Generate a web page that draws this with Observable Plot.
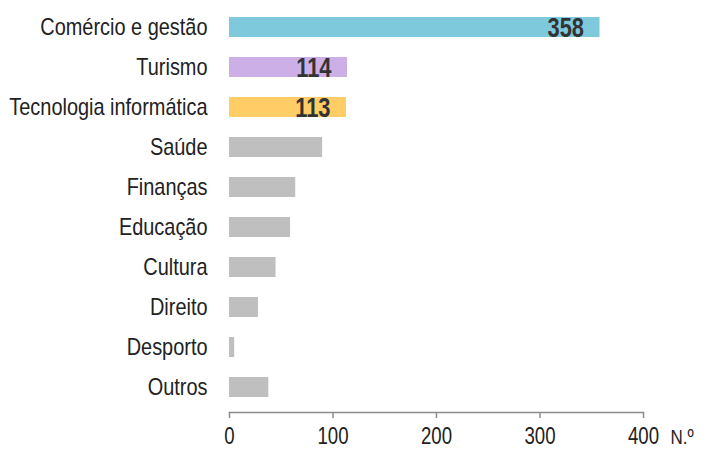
<!DOCTYPE html>
<html>
<head>
<meta charset="utf-8">
<script src="https://cdn.jsdelivr.net/npm/d3@7"></script>
<script src="https://cdn.jsdelivr.net/npm/@observablehq/plot@0.6"></script>
<style>
  html, body { margin: 0; padding: 0; background: #fff; }
  #chart svg { display: block; }
</style>
</head>
<body>
<div id="chart"></div>
<script>
const categories = ["Comércio e gestão", "Turismo", "Tecnologia informática", "Saúde", "Finanças", "Educação", "Cultura", "Direito", "Desporto", "Outros"];
const values = [358, 114, 113, 90, 64, 59, 45, 28, 5, 38];
const barColors = ["#7ECADC", "#CBAFE6", "#FFCC66", "#BFBFBF", "#BFBFBF", "#BFBFBF", "#BFBFBF", "#BFBFBF", "#BFBFBF", "#BFBFBF"];
const labelled = [true, true, true, false, false, false, false, false, false, false];
const xTicks = [0, 100, 200, 300, 400];
const unitLabel = ["N.º"];

const data = categories.map((c, i) => ({category: c, value: values[i], color: barColors[i], show: labelled[i]}));
const font = "'Liberation Sans', Arial, sans-serif";

const chart = Plot.plot({
  width: 704,
  height: 450,
  marginLeft: 229,
  marginRight: 61,
  marginTop: 14,
  marginBottom: 38,
  style: {fontFamily: font, fontSize: "23px", color: "#222", background: "#fff"},
  x: {domain: [0, 400], ticks: xTicks, label: null},
  y: {domain: categories, paddingInner: 0.5, paddingOuter: 0, insetBottom: 12, label: null},
  marks: [
    Plot.barX(data, {x: "value", y: "category", fill: "color"}),
    Plot.frame({anchor: "bottom", stroke: "#8c8c8c", strokeWidth: 1.5}),
    Plot.axisX({ticks: xTicks, tickSize: 6, tickPadding: 9, stroke: "#8c8c8c", strokeWidth: 1.5, fontSize: 23, fill: "#222", label: null, tickFormat: d => String(d)}),
    Plot.axisY({tickSize: 0, tickPadding: 22, fontSize: 24, fill: "#222", label: null, ariaLabel: "y-axis"}),
    Plot.text(data.filter(d => d.show), {x: "value", y: "category", text: d => String(d.value), textAnchor: "end", dx: -16, dy: 1, fontSize: 27, fontWeight: "bold", fill: "#333"}),
    Plot.text(unitLabel, {frameAnchor: "bottom-right", text: d => d, textAnchor: "start", dx: 27, dy: 31, fontSize: 21, fill: "#222"})
  ]
});
document.getElementById("chart").appendChild(chart);

// condense glyphs to mimic a narrow typeface
chart.querySelectorAll("text").forEach(t => {
  const L = t.getComputedTextLength();
  const isY = t.closest("[aria-label='y-axis']") !== null || t.closest("[aria-label='y-axis tick label']") !== null;
  const k = isY ? 0.83 : 0.81;
  if (L > 0) {
    t.setAttribute("textLength", (L * k).toFixed(2));
    t.setAttribute("lengthAdjust", "spacingAndGlyphs");
  }
});
</script>
</body>
</html>
